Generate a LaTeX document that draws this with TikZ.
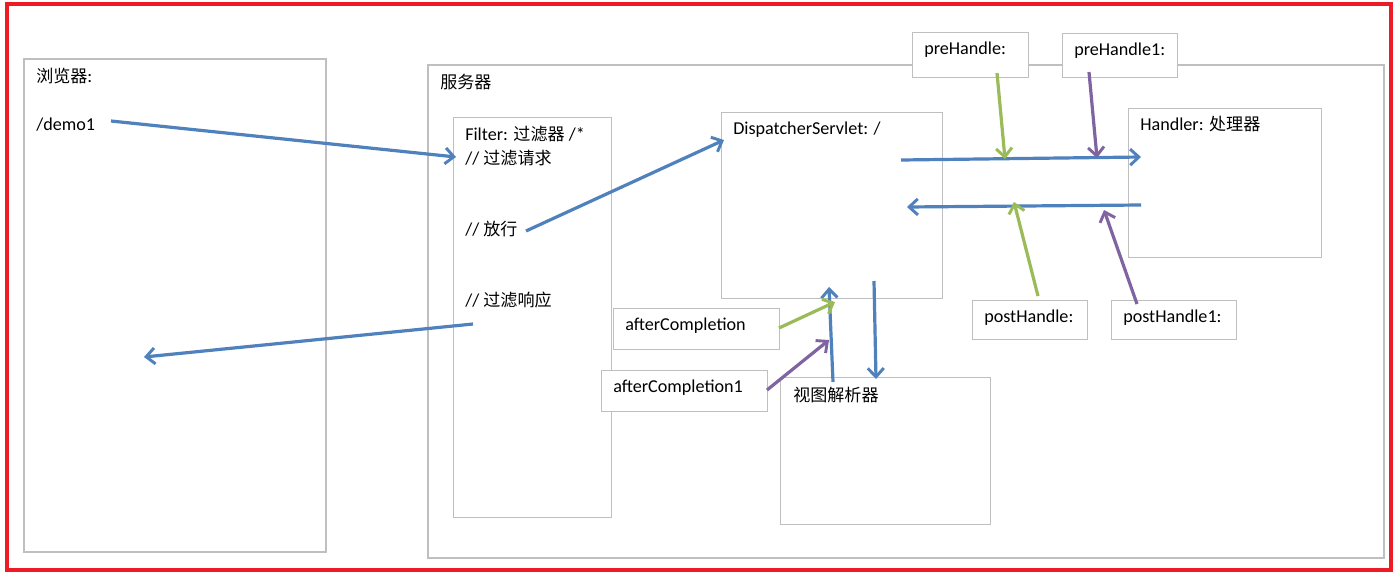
\documentclass[tikz,border=0pt]{standalone}
\usepackage{fontspec}
\setmainfont{Carlito}
\newfontfamily\cjk{Noto Sans CJK SC}
\usetikzlibrary{arrows.meta}
\definecolor{boxgray}{HTML}{BFBFBF}
\definecolor{redframe}{HTML}{ED1C24}
\definecolor{flowblue}{HTML}{4F81BD}
\definecolor{hookgreen}{HTML}{9BBB59}
\definecolor{hookpurple}{HTML}{8064A2}
\newcommand{\zh}[1]{{\cjk\fontsize{12.8}{14}\selectfont #1}}
\tikzset{
  graybox/.style={draw=boxgray, line width=0.8pt, fill=white},
  lbl/.style={anchor=west, inner sep=0pt, font=\fontsize{13.6}{16}\selectfont},
  flow/.style={draw=flowblue, line width=2.4pt, -{Straight Barb[length=6.5pt,width=12pt,line width=2.2pt]}},
  greenflow/.style={flow, draw=hookgreen},
  purpleflow/.style={flow, draw=hookpurple},
}
\begin{document}
\begin{tikzpicture}[x=0.75pt, y=-0.75pt]
\useasboundingbox (0,0) rectangle (1396,575);
\fill[white] (0,0) rectangle (1396,575);
% outer red frame
\draw[redframe, line width=2.4pt] (7,4) rectangle (1391,570);
% main boxes
\draw[graybox] (24,59) rectangle (326,552);
\draw[graybox] (428,65) rectangle (1384,558);
\node[graybox, minimum width=158*0.75pt, minimum height=400*0.75pt, anchor=north west] (filter) at (453,117) {};
\node[graybox, minimum width=221*0.75pt, minimum height=186*0.75pt, anchor=north west] (disp) at (721,112) {};
\node[graybox, minimum width=193*0.75pt, minimum height=149*0.75pt, anchor=north west] (handler) at (1128,108) {};
\node[graybox, minimum width=210*0.75pt, minimum height=147*0.75pt, anchor=north west] (view) at (780,377) {};
% small label boxes
\node[graybox, minimum width=116*0.75pt, minimum height=45*0.75pt, anchor=north west] (pre) at (912,32) {};
\node[graybox, minimum width=115*0.75pt, minimum height=44*0.75pt, anchor=north west] (pre1) at (1062,33) {};
\node[graybox, minimum width=115*0.75pt, minimum height=39*0.75pt, anchor=north west] (post) at (972,300) {};
\node[graybox, minimum width=125*0.75pt, minimum height=39*0.75pt, anchor=north west] (post1) at (1111,300) {};
\node[graybox, minimum width=166*0.75pt, minimum height=41*0.75pt, anchor=north west] (after) at (613,308) {};
\node[graybox, minimum width=166*0.75pt, minimum height=41*0.75pt, anchor=north west] (after1) at (601,370) {};
% texts
\node[lbl] (tbrowser) at (36,76) {\zh{浏览器}:};
\node[lbl] (tdemo) at (36,125) {/demo1};
\node[lbl] (tserver) at (440,82) {\zh{服务器}};
\node[lbl] (tfilter) at (465,134) {Filter: \zh{过滤器} /*};
\node[lbl] (treq) at (465,158) {// \zh{过滤请求}};
\node[lbl] (tpass) at (465,229) {// \zh{放行}};
\node[lbl] (tresp) at (465,300) {// \zh{过滤响应}};
\node[lbl] (tdisp) at (733,130) {DispatcherServlet: /};
\node[lbl] (thandler) at (1140,124) {Handler: \zh{处理器}};
\node[lbl] (tview) at (793,395) {\zh{视图解析器}};
\node[lbl] (tpre) at (924,50) {preHandle:};
\node[lbl] (tpre1) at (1074,51) {preHandle1:};
\node[lbl] (tpost) at (984,318) {postHandle:};
\node[lbl] (tpost1) at (1123,318) {postHandle1:};
\node[lbl] (tafter) at (625,326) {afterCompletion};
\node[lbl] (tafter1) at (613,388) {afterCompletion1};
% connector end points
\coordinate (demoS) at (111,121);
\coordinate (demoE) at (456,157);
\coordinate (passS) at (526,231);
\coordinate (passE) at (724,140);
\coordinate (respS) at (473,324);
\coordinate (respE) at (144,357);
\coordinate (toHS) at (901,160);
\coordinate (toHE) at (1141,157);
\coordinate (fromHS) at (1141,205);
\coordinate (fromHE) at (907,207);
\coordinate (preS) at (997,73);
\coordinate (preE) at (1005,159);
\coordinate (pre1S) at (1089,72);
\coordinate (pre1E) at (1097,158);
\coordinate (postS) at (1038,296);
\coordinate (postE) at (1014,202);
\coordinate (post1S) at (1137,304);
\coordinate (post1E) at (1104,210);
\coordinate (downS) at (874,281);
\coordinate (downE) at (876,379);
\coordinate (upS) at (833,382);
\coordinate (upE) at (829,287);
\coordinate (afterS) at (779,328);
\coordinate (afterE) at (835,302);
\coordinate (after1S) at (767,390);
\coordinate (after1E) at (829,340);
% blue flow arrows
\draw[flow] (demoS) -- (demoE);
\draw[flow] (passS) -- (passE);
\draw[flow] (respS) -- (respE);
\draw[flow] (toHS) -- (toHE);
\draw[flow] (fromHS) -- (fromHE);
\draw[flow] (downS) -- (downE);
\draw[flow] (upS) -- (upE);
% interceptor arrows
\draw[greenflow] (preS) -- (preE);
\draw[purpleflow] (pre1S) -- (pre1E);
\draw[greenflow] (postS) -- (postE);
\draw[purpleflow] (post1S) -- (post1E);
\draw[greenflow] (afterS) -- (afterE);
\draw[purpleflow] (after1S) -- (after1E);
\end{tikzpicture}
\end{document}
